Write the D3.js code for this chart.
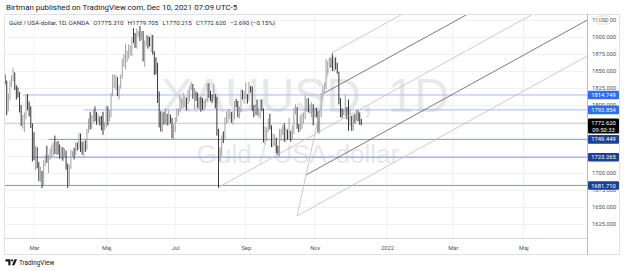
<!DOCTYPE html>
<html><head><meta charset="utf-8">
<script src="https://cdn.jsdelivr.net/npm/d3@7"></script>
<style>
html,body{margin:0;padding:0;background:#fff;}
svg{display:block;font-family:Roboto,"Noto Sans",sans-serif;}
</style></head><body>
<svg id="c" width="625" height="271"></svg>
<script>
// ---------- DATA (daily XAUUSD bars, consecutive weekdays from startDate) ----------
const startDate = "2021-02-01";
const opens = [1848,1860,1838,1834,1793,1813,1832,1838,1842,1825,
1823,1818,1799,1775,1775,1784,1809,1805,1797,1770,
1734,1723,1737,1713,1698,1700,1683,1716,1726,1722,
1727,1731,1731,1745,1736,1745,1738,1727,1734,1726,
1732,1712,1685,1708,1728,1729,1728,1743,1737,1756,
1744,1732,1746,1736,1764,1777,1770,1779,1793,1783,
1777,1780,1778,1773,1768,1768,1792,1779,1785,1815,
1831,1836,1836,1815,1826,1843,1867,1869,1869,1877,
1881,1882,1898,1896,1895,1903,1905,1903,1908,1871,
1891,1899,1893,1888,1899,1877,1866,1859,1812,1774,
1764,1783,1779,1779,1776,1781,1779,1761,1770,1777,
1787,1792,1797,1803,1803,1808,1806,1808,1825,1829,
1812,1813,1810,1803,1806,1802,1797,1799,1806,1829,
1814,1813,1810,1813,1804,1763,1729,1732,1753,1752,
1780,1786,1786,1787,1780,1781,1805,1803,1790,1793,
1817,1810,1814,1815,1810,1827,1823,1795,1789,1794,
1788,1794,1805,1794,1753,1754,1764,1774,1768,1743,
1750,1750,1734,1726,1757,1761,1769,1760,1762,1756,
1757,1754,1760,1793,1796,1767,1765,1769,1782,1782,
1793,1807,1793,1798,1799,1783,1793,1787,1770,1792,
1818,1825,1830,1849,1863,1865,1863,1851,1868,1859,
1846,1805,1790,1788,1790,1792,1785,1775,1782,1768,
1783,1778,1785,1783,1775.31];
const highs = [1875,1862,1845,1836,1817,1836,1844,1855,1848,1829,
1826,1819,1800,1785,1789,1815,1816,1805,1798,1773,
1760,1740,1738,1716,1709,1703,1719,1727,1740,1727,
1736,1741,1745,1755,1746,1747,1742,1738,1738,1736,
1733,1714,1712,1734,1732,1737,1745,1745,1759,1758,
1746,1747,1748,1765,1780,1790,1785,1794,1798,1790,
1786,1783,1784,1790,1775,1799,1798,1793,1818,1845,
1845,1844,1841,1829,1845,1868,1875,1890,1880,1889,
1887,1900,1913,1906,1912,1909,1916,1909,1909,1895,
1903,1902,1900,1904,1903,1879,1870,1862,1820,1791,
1789,1790,1795,1787,1792,1786,1781,1771,1782,1795,
1795,1815,1809,1818,1814,1811,1822,1829,1834,1831,
1825,1820,1818,1811,1812,1810,1806,1810,1832,1832,
1821,1816,1831,1816,1812,1765,1738,1755,1761,1782,
1791,1795,1794,1790,1791,1806,1809,1806,1798,1823,
1822,1820,1833,1816,1834,1828,1827,1800,1801,1808,
1796,1809,1808,1795,1769,1767,1780,1787,1770,1758,
1757,1752,1740,1765,1765,1770,1773,1767,1764,1781,
1762,1770,1796,1801,1797,1772,1785,1788,1789,1814,
1810,1810,1801,1804,1801,1796,1796,1791,1793,1818,
1828,1833,1868,1865,1870,1869,1877,1870,1870,1862,
1849,1810,1795,1794,1815,1797,1808,1793,1784,1786,
1787,1793,1792,1789,1779.705];
const lows = [1847,1831,1830,1785,1791,1807,1827,1835,1822,1808,
1811,1789,1769,1765,1760,1779,1792,1783,1766,1717,
1719,1704,1707,1688,1687,1678,1681,1710,1715,1700,
1719,1723,1725,1728,1727,1727,1721,1720,1718,1722,
1705,1678,1681,1706,1724,1720,1726,1733,1735,1731,
1727,1724,1731,1734,1759,1764,1765,1774,1776,1771,
1774,1770,1763,1756,1763,1767,1770,1776,1782,1813,
1825,1822,1813,1808,1824,1839,1856,1852,1863,1868,
1873,1872,1891,1884,1883,1900,1894,1896,1864,1856,
1887,1883,1886,1878,1874,1844,1845,1803,1767,1761,
1760,1771,1772,1770,1770,1773,1751,1750,1760,1775,
1784,1789,1794,1795,1797,1792,1801,1805,1822,1809,
1794,1806,1796,1793,1790,1793,1791,1795,1805,1810,
1806,1803,1808,1795,1755,1678,1717,1725,1744,1750,
1772,1775,1780,1774,1771,1779,1797,1782,1780,1789,
1808,1802,1809,1802,1806,1818,1791,1782,1785,1785,
1782,1780,1791,1745,1742,1747,1760,1764,1738,1738,
1740,1729,1726,1724,1747,1756,1746,1746,1749,1750,
1746,1750,1757,1786,1765,1760,1762,1765,1773,1779,
1791,1789,1787,1782,1770,1781,1782,1759,1758,1782,
1811,1818,1823,1844,1856,1855,1850,1849,1852,1846,
1801,1782,1781,1785,1783,1779,1762,1769,1762,1762,
1773,1777,1776,1771,1770.215];
const closes = [1860,1838,1834,1793,1813,1832,1838,1842,1825,1823,
1818,1799,1775,1775,1784,1809,1805,1797,1770,1734,
1723,1737,1713,1698,1700,1683,1716,1726,1722,1727,
1731,1731,1745,1736,1745,1738,1727,1734,1726,1732,
1712,1685,1708,1728,1729,1728,1743,1737,1756,1744,
1732,1746,1736,1764,1777,1770,1779,1793,1783,1777,
1780,1778,1773,1768,1768,1792,1779,1785,1815,1831,
1836,1836,1815,1826,1843,1867,1869,1869,1877,1881,
1882,1898,1896,1895,1903,1905,1903,1908,1871,1891,
1899,1893,1888,1899,1877,1866,1859,1812,1774,1764,
1783,1779,1779,1776,1781,1779,1761,1770,1777,1787,
1792,1797,1803,1803,1808,1806,1808,1825,1829,1812,
1813,1810,1803,1806,1802,1797,1799,1806,1829,1814,
1813,1810,1813,1804,1763,1729,1732,1753,1752,1780,
1786,1786,1787,1780,1781,1805,1803,1790,1793,1817,
1810,1814,1815,1810,1827,1823,1795,1789,1794,1788,
1794,1805,1794,1753,1754,1764,1774,1768,1743,1750,
1750,1734,1726,1757,1761,1769,1760,1762,1756,1757,
1754,1760,1793,1796,1767,1765,1769,1782,1782,1793,
1807,1793,1798,1799,1783,1793,1787,1770,1792,1818,
1825,1830,1849,1863,1865,1863,1851,1868,1859,1846,
1805,1790,1788,1790,1792,1785,1775,1782,1768,1783,
1778,1785,1783,1775.31,1772.62];

const levelPrices = [1814.749, 1792.854, 1749.449, 1723.265, 1681.710];
const levelStarts = ["2021-02-18", "2021-04-13", "2021-03-12", "2021-02-26", "2021-02-01"];
const levelKinds  = ["upper", "upper", "lower", "lower", "lower"];

const pitchDates  = ["2021-08-09", "2021-11-16", "2021-10-15"];   // P1 handle, P2, P3
const pitchPrices = [1679, 1877, 1637];
const forkLevels  = [0, 0.25, 0.5, 0.75, 1];

const priceTicks = [1625,1650,1675,1700,1725,1750,1775,1800,1825,1850,1875,1900,1925];
const monthTicks = ["2021-03","2021-05","2021-07","2021-09","2021-11","2022-01","2022-03","2022-05"];
const monthLabels = ["Mar","Maj","Jul","Sep","Nov","2022","Mar","Maj"];

const headerText = "Birtman published on TradingView.com, Dec 10, 2021 07:09 UTC-5";
const legendTitle = "Guld / USA-dollar, 1D, OANDA";
const legendVals = ["O1775.310","H1779.705","L1770.215","C1772.620","\u22122.690 (\u22120.15%)"];
const countdown = "09:50:33";

// ---------- LAYOUT ----------
const paneL = 4, paneR = 620, paneT = 14, plotB = 238, axisB = 255, axisX = 587;
const svg = d3.select("#c");
const fmt = d3.timeFormat("%Y-%m-%d");
const fmtM = d3.timeFormat("%Y-%m");
const days = d3.timeDays(d3.timeParse("%Y-%m-%d")(startDate), new Date(2022, 6, 1))
  .filter(d => d.getDay() !== 0 && d.getDay() !== 6);
const idx = new Map(days.map((d, i) => [fmt(d), i]));
const monthIdx = monthTicks.map(m => days.findIndex(d => fmtM(d) === m));

const x = d3.scaleLinear().domain([monthIdx[0], monthIdx[5]]).range([34, 387]);
const y = d3.scaleLinear().domain([1900, 1625]).range([37, 224]);

const bars = closes.map((c, i) => ({i, o: opens[i], h: highs[i], l: lows[i], c}));

svg.append("rect").attr("width", 625).attr("height", 271).attr("fill", "#fff");

const defs = svg.append("defs");
defs.append("clipPath").attr("id", "plot").append("rect")
  .attr("x", paneL).attr("y", paneT).attr("width", axisX - paneL).attr("height", plotB - paneT);

const plot = svg.append("g").attr("clip-path", "url(#plot)");

// grid
plot.append("g").selectAll("line").data(priceTicks).join("line")
  .attr("x1", paneL).attr("x2", axisX).attr("y1", d => y(d) + 0.5).attr("y2", d => y(d) + 0.5)
  .attr("stroke", "#eff1f5");
plot.append("g").selectAll("line").data(monthIdx).join("line")
  .attr("x1", d => x(d)).attr("x2", d => x(d)).attr("y1", paneT).attr("y2", plotB)
  .attr("stroke", "#eff1f5");

// watermark
plot.append("text").attr("x", 305).attr("y", 112).attr("text-anchor", "middle")
  .attr("font-family", "'Liberation Sans', Arial, sans-serif").attr("font-size", 48)
  .attr("fill", "#e8e8e8").text("XAUUSD, 1D");
plot.append("text").attr("x", 298).attr("y", 163).attr("text-anchor", "middle")
  .attr("font-family", "'Liberation Sans', Arial, sans-serif").attr("font-size", 26)
  .attr("fill", "#e8e8e8").text("Guld / USA-dollar");

// horizontal rays
const levels = levelPrices.map((p, k) => ({p, s: idx.get(levelStarts[k]), kind: levelKinds[k]}));
plot.append("g").selectAll("line").data(levels).join("line")
  .attr("x1", d => x(d.s)).attr("x2", axisX)
  .attr("y1", d => y(d.p)).attr("y2", d => y(d.p))
  .attr("stroke", d => d.kind === "upper" ? "#9fb3f3" : "#7488da").attr("stroke-width", 0.9);

// last price line
const last = bars[bars.length - 1];
plot.append("line").attr("x1", paneL).attr("x2", axisX)
  .attr("y1", y(last.c)).attr("y2", y(last.c)).attr("stroke", "#bcbcbc").attr("stroke-width", 0.7);

// bars
plot.append("g").selectAll("line").data(bars).join("line")
  .attr("x1", d => x(d.i)).attr("x2", d => x(d.i))
  .attr("y1", d => y(d.h)).attr("y2", d => y(d.l))
  .attr("stroke", d => d.c >= d.o ? "#9c9c9c" : "#2a2a2a").attr("stroke-width", 0.95);

// pitchfork
const P = pitchDates.map((d, k) => [x(idx.get(d)), y(pitchPrices[k])]);
const M = [(P[1][0] + P[2][0]) / 2, (P[1][1] + P[2][1]) / 2];
const dir = [M[0] - P[0][0], M[1] - P[0][1]];
const fork = forkLevels.map(t => {
  const s = t === 0.5 ? P[0] : [P[1][0] + t * (P[2][0] - P[1][0]), P[1][1] + t * (P[2][1] - P[1][1])];
  const k = (axisX - s[0]) / dir[0];
  return {s, e: [axisX, s[1] + k * dir[1]], dark: t === 0.25 || t === 0.75};
});
plot.append("g").selectAll("line").data(fork).join("line")
  .attr("x1", d => d.s[0]).attr("y1", d => d.s[1]).attr("x2", d => d.e[0]).attr("y2", d => d.e[1])
  .attr("stroke", d => d.dark ? "#666" : "#c2c2c2").attr("stroke-width", 0.85);
plot.append("line").attr("x1", P[1][0]).attr("y1", P[1][1]).attr("x2", P[2][0]).attr("y2", P[2][1])
  .attr("stroke", "#c2c2c2").attr("stroke-width", 0.85);

// frames
svg.append("rect").attr("x", paneL + 0.5).attr("y", paneT + 0.5)
  .attr("width", paneR - paneL - 1).attr("height", axisB - paneT - 1)
  .attr("fill", "none").attr("stroke", "#e0e3eb");
svg.append("line").attr("x1", paneL).attr("x2", axisX).attr("y1", plotB + 0.5).attr("y2", plotB + 0.5)
  .attr("stroke", "#d6d8de");
svg.append("line").attr("x1", axisX + 0.5).attr("x2", axisX + 0.5).attr("y1", paneT).attr("y2", axisB)
  .attr("stroke", "#b8bbc3");

// price axis
const pAxis = svg.append("g").attr("transform", `translate(${axisX},0)`)
  .call(d3.axisRight(y).tickValues(priceTicks).tickFormat(d3.format(".3f")).tickSize(0).tickPadding(5));
pAxis.select(".domain").remove();
pAxis.selectAll("text").attr("font-size", 5.8).attr("fill", "#50535e").attr("font-family", "Roboto, sans-serif");

// time axis
const tAxis = svg.append("g").attr("transform", `translate(0,${plotB})`)
  .call(d3.axisBottom(x).tickValues(monthIdx).tickFormat((d, k) => monthLabels[k]).tickSize(0).tickPadding(7.5));
tAxis.select(".domain").remove();
tAxis.selectAll("text").attr("font-size", 5.8).attr("fill", "#50535e").attr("font-family", "Roboto, sans-serif");

// level labels on price axis
const lab = svg.append("g").selectAll("g").data(levels).join("g")
  .attr("transform", d => `translate(${axisX + 1},${y(d.p)})`);
lab.append("rect").attr("x", 0).attr("y", -4.3).attr("width", 31).attr("height", 8.6).attr("rx", 1)
  .attr("fill", d => d.kind === "upper" ? "#2e6cf0" : "#1d3f96");
lab.append("text").attr("x", 15.5).attr("y", 2.1).attr("text-anchor", "middle")
  .attr("font-size", 5.8).attr("fill", "#fff").text(d => d3.format(".3f")(d.p));

// current price label
const cur = svg.append("g").attr("transform", `translate(${axisX + 1},${y(last.c)})`);
cur.append("rect").attr("x", 0).attr("y", -5).attr("width", 31).attr("height", 15).attr("rx", 1).attr("fill", "#000");
cur.append("text").attr("x", 15.5).attr("y", 1.3).attr("text-anchor", "middle")
  .attr("font-size", 5.8).attr("fill", "#fff").text(d3.format(".3f")(last.c));
cur.append("text").attr("x", 15.5).attr("y", 8).attr("text-anchor", "middle")
  .attr("font-size", 5.8).attr("fill", "#fff").text(countdown);

// USD badge
const usd = svg.append("g").attr("transform", `translate(597,${y(1925)})`);
usd.append("rect").attr("x", 0).attr("y", -4).attr("width", 13).attr("height", 8).attr("rx", 1.5)
  .attr("fill", "#fff").attr("stroke", "#c9ccd3").attr("stroke-width", 0.6);
usd.append("text").attr("x", 6.5).attr("y", 2).attr("text-anchor", "middle")
  .attr("font-size", 5.3).attr("fill", "#50535e").text("USD");

// header & legend
svg.append("text").attr("x", 6).attr("y", 9.8).attr("font-size", 7.9).attr("fill", "#131722").text(headerText);
const lg = svg.append("text").attr("x", 9).attr("y", 24.6).attr("font-size", 6.2).attr("fill", "#2a2e39");
lg.append("tspan").text(legendTitle);
legendVals.forEach(v => lg.append("tspan").attr("dx", 4.2).text(v));

// TradingView logo
const logo = svg.append("g").attr("fill", "#131722");
logo.append("path").attr("d", "M5.5 259.3h5v6h-2.2v-3.8H5.5z");
logo.append("circle").attr("cx", 12.2).attr("cy", 260.4).attr("r", 1.05);
logo.append("path").attr("d", "M14.6 259.3h2.4l-2.6 6h-2.4z");
svg.append("text").attr("x", 19).attr("y", 264.8).attr("font-size", 6.4).attr("fill", "#131722").text("TradingView");
</script>
</body></html>
